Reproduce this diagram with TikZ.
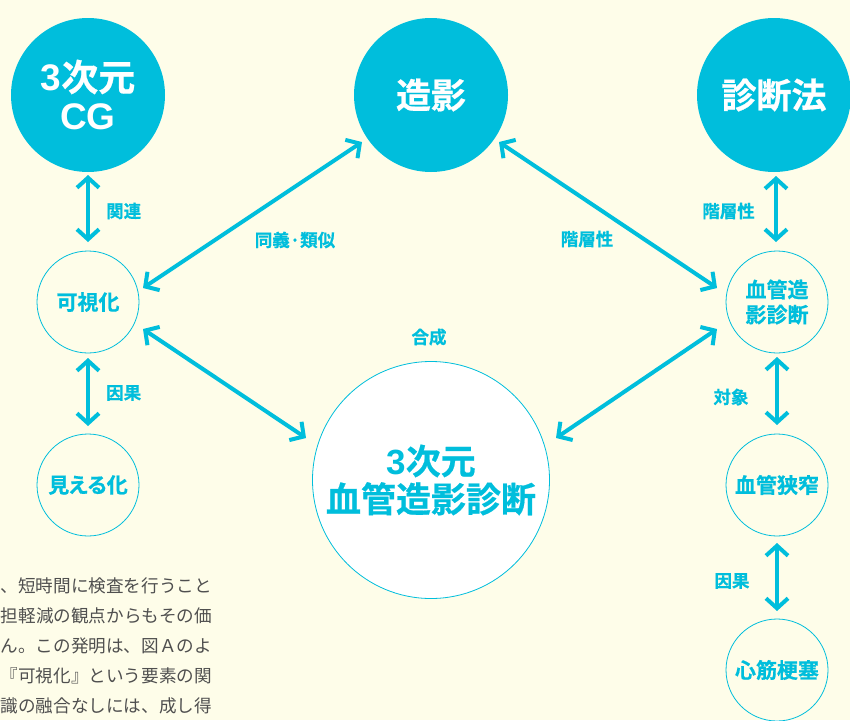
\documentclass[tikz,border=0pt]{standalone}
\usepackage{fontspec}
\setmainfont{Noto Sans CJK JP}[BoldFont={Noto Sans CJK JP Bold}, BoldFeatures={FakeBold=0.6}]
\newfontfamily\lat{Liberation Sans}
\usetikzlibrary{arrows.meta,calc}
\definecolor{cy}{HTML}{00BEDC}
\definecolor{bg}{HTML}{FEFDE9}
\definecolor{txtgray}{HTML}{4F4F4F}
\begin{document}
\begin{tikzpicture}[x=1pt,y=1pt,
  bigc/.style={circle, fill=cy, inner sep=0, minimum size=154pt, text=white, font=\bfseries\fontsize{35}{39}\selectfont, align=center},
  smallc/.style={circle, draw=cy, line width=0.8pt, inner sep=0, minimum size=102pt, text=cy, font=\bfseries\fontsize{21}{25}\selectfont, align=center},
  hubc/.style={circle, draw=cy, fill=white, line width=0.8pt, minimum size=237pt, inner sep=0, text=cy, font=\bfseries\fontsize{35}{38}\selectfont, align=center},
  lbl/.style={text=cy, font=\bfseries\fontsize{17.5}{19}\selectfont, inner sep=0},
  dbl/.style={draw=cy, line width=4pt, {Straight Barb[length=10pt,width=22pt]}-{Straight Barb[length=10pt,width=22pt]}},
  para/.style={text=txtgray, font=\fontsize{17.6}{19}\selectfont, anchor=east, inner sep=0}
]
\fill[bg] (0,0) rectangle (850,-720);
\useasboundingbox (0,0) rectangle (850,-720);

% big filled circles
\node[bigc, font=\bfseries\fontsize{37}{39}\selectfont] (cg) at (88,-95) {{\lat 3}次元\\{\lat CG}};
\node[bigc] (zoei) at (431,-95) {造影};
\node[bigc] (shindan) at (774,-95) {診断法};

% small circles
\node[smallc] (kashika) at (88,-302) {可視化};
\node[smallc] (mieru) at (88,-485) {\addfontfeatures{RawFeature=+palt}見える化};
\node[smallc] (kekkan) at (777,-302) {血管造\\影診断};
\node[smallc] (kyousaku) at (777,-485) {血管狭窄};
\node[smallc] (shinkin) at (777,-670) {心筋梗塞};

% hub
\node[hubc] (hub) at (431,-480) {{\lat 3}次元\\血管造影診断};

% vertical arrows
\draw[dbl] ($(cg)+(0,-80)$) -- ($(kashika)+(0,60)$);
\draw[dbl] ($(kashika)+(0,-56)$) -- ($(mieru)+(0,59)$);
\draw[dbl] ($(shindan)+(2,-81)$) -- ($(kekkan)+(-1,60)$);
\draw[dbl] ($(kekkan)+(0,-55)$) -- ($(kyousaku)+(0,60)$);
\draw[dbl] ($(kyousaku)+(0,-58)$) -- ($(shinkin)+(0,59)$);

% diagonal arrows
\draw[dbl] ($(kashika)+(55,14)$) -- ($(zoei)+(-69,-47)$);
\draw[dbl] ($(zoei)+(68,-47)$) -- ($(kekkan)+(-60,14)$);
\draw[dbl] ($(kashika)+(55,-27)$) -- ($(hub)+(-125,42)$);
\draw[dbl] ($(hub)+(125,42)$) -- ($(kekkan)+(-60,-27)$);

% labels
\node[lbl, anchor=west] (l1) at (106,-211) {関連};
\node[lbl, anchor=west] (l2) at (106,-393) {因果};
\node[lbl] (l3) at (295,-240) {同義·類似};
\node[lbl] (l4) at (587,-239) {階層性};
\node[lbl, anchor=east] (l5) at (755,-211) {階層性};
\node[lbl] (l6) at (731,-397) {対象};
\node[lbl] (l7) at (732,-581) {因果};
\node[lbl] (l8) at (429,-337) {合成};

% paragraph fragment
\node[para] (p1) at (212,-586) {、短時間に検査を行うこと};
\node[para] (p2) at (212,-616) {担軽減の観点からもその価};
\node[para] (p3) at (212,-646) {ん。この発明は、図Ａのよ};
\node[para] (p4) at (212,-676) {『可視化』という要素の関};
\node[para] (p5) at (212,-706) {識の融合なしには、成し得};
\end{tikzpicture}
\end{document}
